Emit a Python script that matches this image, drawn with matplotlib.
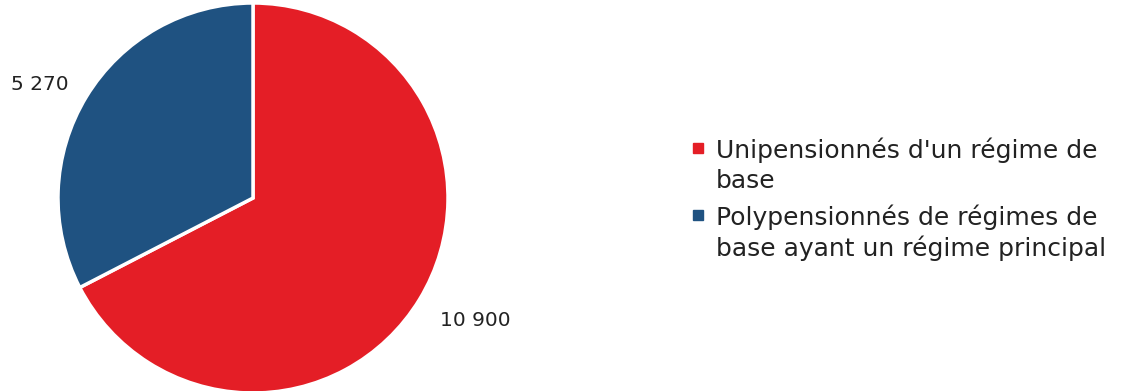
import matplotlib.pyplot as plt
import matplotlib.transforms as mtransforms
from matplotlib.lines import Line2D
from matplotlib.legend_handler import HandlerLine2D

plt.rcParams['font.family'] = ['DejaVu Sans']

# values of the pie (in thousands)
categories = ["Unipensionnés d'un régime de\nbase",
              "Polypensionnés de régimes de\nbase ayant un régime principal"]
values = [10900, 5270]
valueLabels = ["10 900", "5 270"]
colors = ["#E41E26", "#1F5281"]
# small nudges for the value labels (points)
labelNudges = [(6.5, 5), (0, -12)]


class FirstLineHandler(HandlerLine2D):
    # put the legend square next to the first text line, not the middle
    def create_artists(self, legend, orig_handle, xdescent, ydescent,
                       width, height, fontsize, trans):
        artists = super().create_artists(legend, orig_handle, xdescent, ydescent,
                                         width, height, fontsize, trans)
        for a in artists:
            a.set_ydata([y + 13 for y in a.get_ydata()])
        return artists


fig = plt.figure(figsize=(11.3, 3.91), dpi=100)
ax = fig.add_axes([58 / 1130, -2 / 391, 390 / 1130, 390 / 391])

wedges, texts = ax.pie(values, labels=valueLabels, colors=colors, startangle=90,
                       counterclock=False, labeldistance=1.28,
                       wedgeprops=dict(edgecolor="white", linewidth=2.5),
                       textprops=dict(fontsize=14.5, color="#222222"))
for t, (dx, dy) in zip(texts, labelNudges):
    t.set_ha("center")
    t.set_transform(mtransforms.offset_copy(ax.transData, fig=fig,
                                            x=dx, y=dy, units="points"))
ax.set_xlim(-1, 1)
ax.set_ylim(-1, 1)
ax.set_aspect("equal")

# legend with small square markers
handles = [Line2D([], [], marker="s", linestyle="", markersize=7, color=c)
           for c in colors]
leg = fig.legend(handles, categories, loc="center left",
                 bbox_to_anchor=(668 / 1130, 0.49), frameon=False,
                 fontsize=18, handlelength=0.6, handletextpad=0.4,
                 labelspacing=0.45, labelcolor="#222222",
                 handler_map={Line2D: FirstLineHandler()})
for t in leg.get_texts():
    t.set_linespacing(1.3)

plt.savefig("out.png", dpi=100)
